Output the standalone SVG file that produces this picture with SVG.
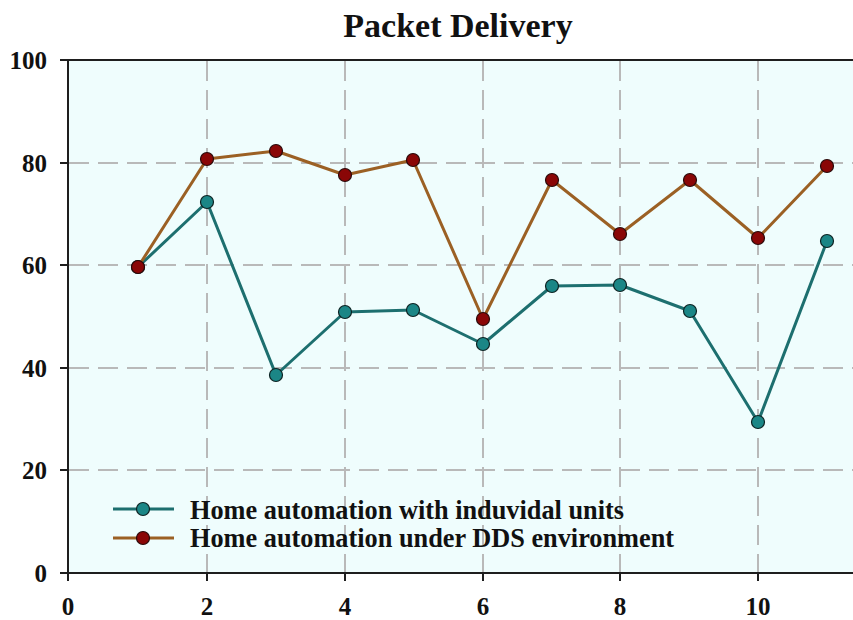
<svg xmlns="http://www.w3.org/2000/svg" width="853" height="620" viewBox="0 0 853 620">
  <style>
    .title { font-family: "Liberation Serif", "Times New Roman", serif; font-weight: bold; font-size: 34px; fill: #111; }
    .tick { font-family: "Liberation Serif", "Times New Roman", serif; font-weight: bold; font-size: 25px; fill: #111; }
    .legend { font-family: "Liberation Serif", "Times New Roman", serif; font-weight: bold; font-size: 26.3px; fill: #111; }
    .grid { stroke: #b9b9b9; stroke-width: 2; stroke-dasharray: 20 9; fill: none; }
    .axis { stroke: #1e1e1e; stroke-width: 2; fill: none; }
    .teal-line { stroke: #1d6f6f; stroke-width: 3; fill: none; stroke-linejoin: round; }
    .brown-line { stroke: #9b6024; stroke-width: 3; fill: none; stroke-linejoin: round; }
    .teal-dot { fill: #1b8686; stroke: #0d2222; stroke-width: 1.2; }
    .red-dot { fill: #8a0606; stroke: #2a0a0a; stroke-width: 1.2; }
  </style>

  <rect width="853" height="620" fill="#ffffff"/>

  <!-- plot area -->
  <rect x="68" y="60" width="785" height="513" fill="#effdfd"/>

  <!-- grid -->
  <g id="grid">
    <line class="grid" x1="69" y1="163" x2="853" y2="163"/>
    <line class="grid" x1="69" y1="265" x2="853" y2="265"/>
    <line class="grid" x1="69" y1="368" x2="853" y2="368"/>
    <line class="grid" x1="69" y1="470" x2="853" y2="470"/>
    <line class="grid" x1="207" y1="61" x2="207" y2="572"/>
    <line class="grid" x1="345" y1="61" x2="345" y2="572"/>
    <line class="grid" x1="483" y1="61" x2="483" y2="572"/>
    <line class="grid" x1="620" y1="61" x2="620" y2="572"/>
    <line class="grid" x1="758" y1="61" x2="758" y2="572"/>
  </g>

  <!-- axes and ticks -->
  <g id="axes">
    <line class="axis" x1="68" y1="60" x2="853" y2="60"/>
    <line class="axis" x1="68" y1="59" x2="68" y2="574"/>
    <line class="axis" x1="68" y1="573" x2="853" y2="573"/>
    <line class="axis" x1="60" y1="60" x2="68" y2="60"/>
    <line class="axis" x1="60" y1="163" x2="68" y2="163"/>
    <line class="axis" x1="60" y1="265" x2="68" y2="265"/>
    <line class="axis" x1="60" y1="368" x2="68" y2="368"/>
    <line class="axis" x1="60" y1="470" x2="68" y2="470"/>
    <line class="axis" x1="60" y1="573" x2="68" y2="573"/>
    <line class="axis" x1="68" y1="573" x2="68" y2="581"/>
    <line class="axis" x1="207" y1="573" x2="207" y2="581"/>
    <line class="axis" x1="345" y1="573" x2="345" y2="581"/>
    <line class="axis" x1="483" y1="573" x2="483" y2="581"/>
    <line class="axis" x1="620" y1="573" x2="620" y2="581"/>
    <line class="axis" x1="758" y1="573" x2="758" y2="581"/>
  </g>

  <g id="y-labels" text-anchor="end">
    <text class="tick" x="47" y="69">100</text>
    <text class="tick" x="47" y="172">80</text>
    <text class="tick" x="47" y="274">60</text>
    <text class="tick" x="47" y="377">40</text>
    <text class="tick" x="47" y="479">20</text>
    <text class="tick" x="47" y="582">0</text>
  </g>

  <g id="x-labels" text-anchor="middle">
    <text class="tick" x="68" y="615">0</text>
    <text class="tick" x="207" y="615">2</text>
    <text class="tick" x="345" y="615">4</text>
    <text class="tick" x="483" y="615">6</text>
    <text class="tick" x="620" y="615">8</text>
    <text class="tick" x="758" y="615">10</text>
  </g>

  <text id="title" class="title" x="458" y="37" text-anchor="middle">Packet Delivery</text>

  <!-- series: individual units -->
  <g id="series-individual">
    <polyline class="teal-line" points="138,267 207,202 276,375 345,312 413,310 483,344 552,286 620,285 690,311 758,422 827,241"/>
    <circle class="teal-dot" cx="138" cy="267" r="6.5"/>
    <circle class="teal-dot" cx="207" cy="202" r="6.5"/>
    <circle class="teal-dot" cx="276" cy="375" r="6.5"/>
    <circle class="teal-dot" cx="345" cy="312" r="6.5"/>
    <circle class="teal-dot" cx="413" cy="310" r="6.5"/>
    <circle class="teal-dot" cx="483" cy="344" r="6.5"/>
    <circle class="teal-dot" cx="552" cy="286" r="6.5"/>
    <circle class="teal-dot" cx="620" cy="285" r="6.5"/>
    <circle class="teal-dot" cx="690" cy="311" r="6.5"/>
    <circle class="teal-dot" cx="758" cy="422" r="6.5"/>
    <circle class="teal-dot" cx="827" cy="241" r="6.5"/>
  </g>

  <!-- series: DDS environment -->
  <g id="series-dds">
    <polyline class="brown-line" points="138,267 207,159 276,151 345,175 413,160 483,319 552,180 620,234 690,180 758,238 827,166"/>
    <circle class="red-dot" cx="138" cy="267" r="6.5"/>
    <circle class="red-dot" cx="207" cy="159" r="6.5"/>
    <circle class="red-dot" cx="276" cy="151" r="6.5"/>
    <circle class="red-dot" cx="345" cy="175" r="6.5"/>
    <circle class="red-dot" cx="413" cy="160" r="6.5"/>
    <circle class="red-dot" cx="483" cy="319" r="6.5"/>
    <circle class="red-dot" cx="552" cy="180" r="6.5"/>
    <circle class="red-dot" cx="620" cy="234" r="6.5"/>
    <circle class="red-dot" cx="690" cy="180" r="6.5"/>
    <circle class="red-dot" cx="758" cy="238" r="6.5"/>
    <circle class="red-dot" cx="827" cy="166" r="6.5"/>
  </g>

  <!-- legend -->
  <g id="legend">
    <line class="teal-line" x1="113" y1="509" x2="174" y2="509"/>
    <circle class="teal-dot" cx="143" cy="509" r="6.5"/>
    <text class="legend" x="190" y="519">Home automation with induvidal units</text>
    <line class="brown-line" x1="113" y1="538" x2="174" y2="538"/>
    <circle class="red-dot" cx="143" cy="538" r="6.5"/>
    <text class="legend" x="190" y="547">Home automation under DDS environment</text>
  </g>
</svg>
